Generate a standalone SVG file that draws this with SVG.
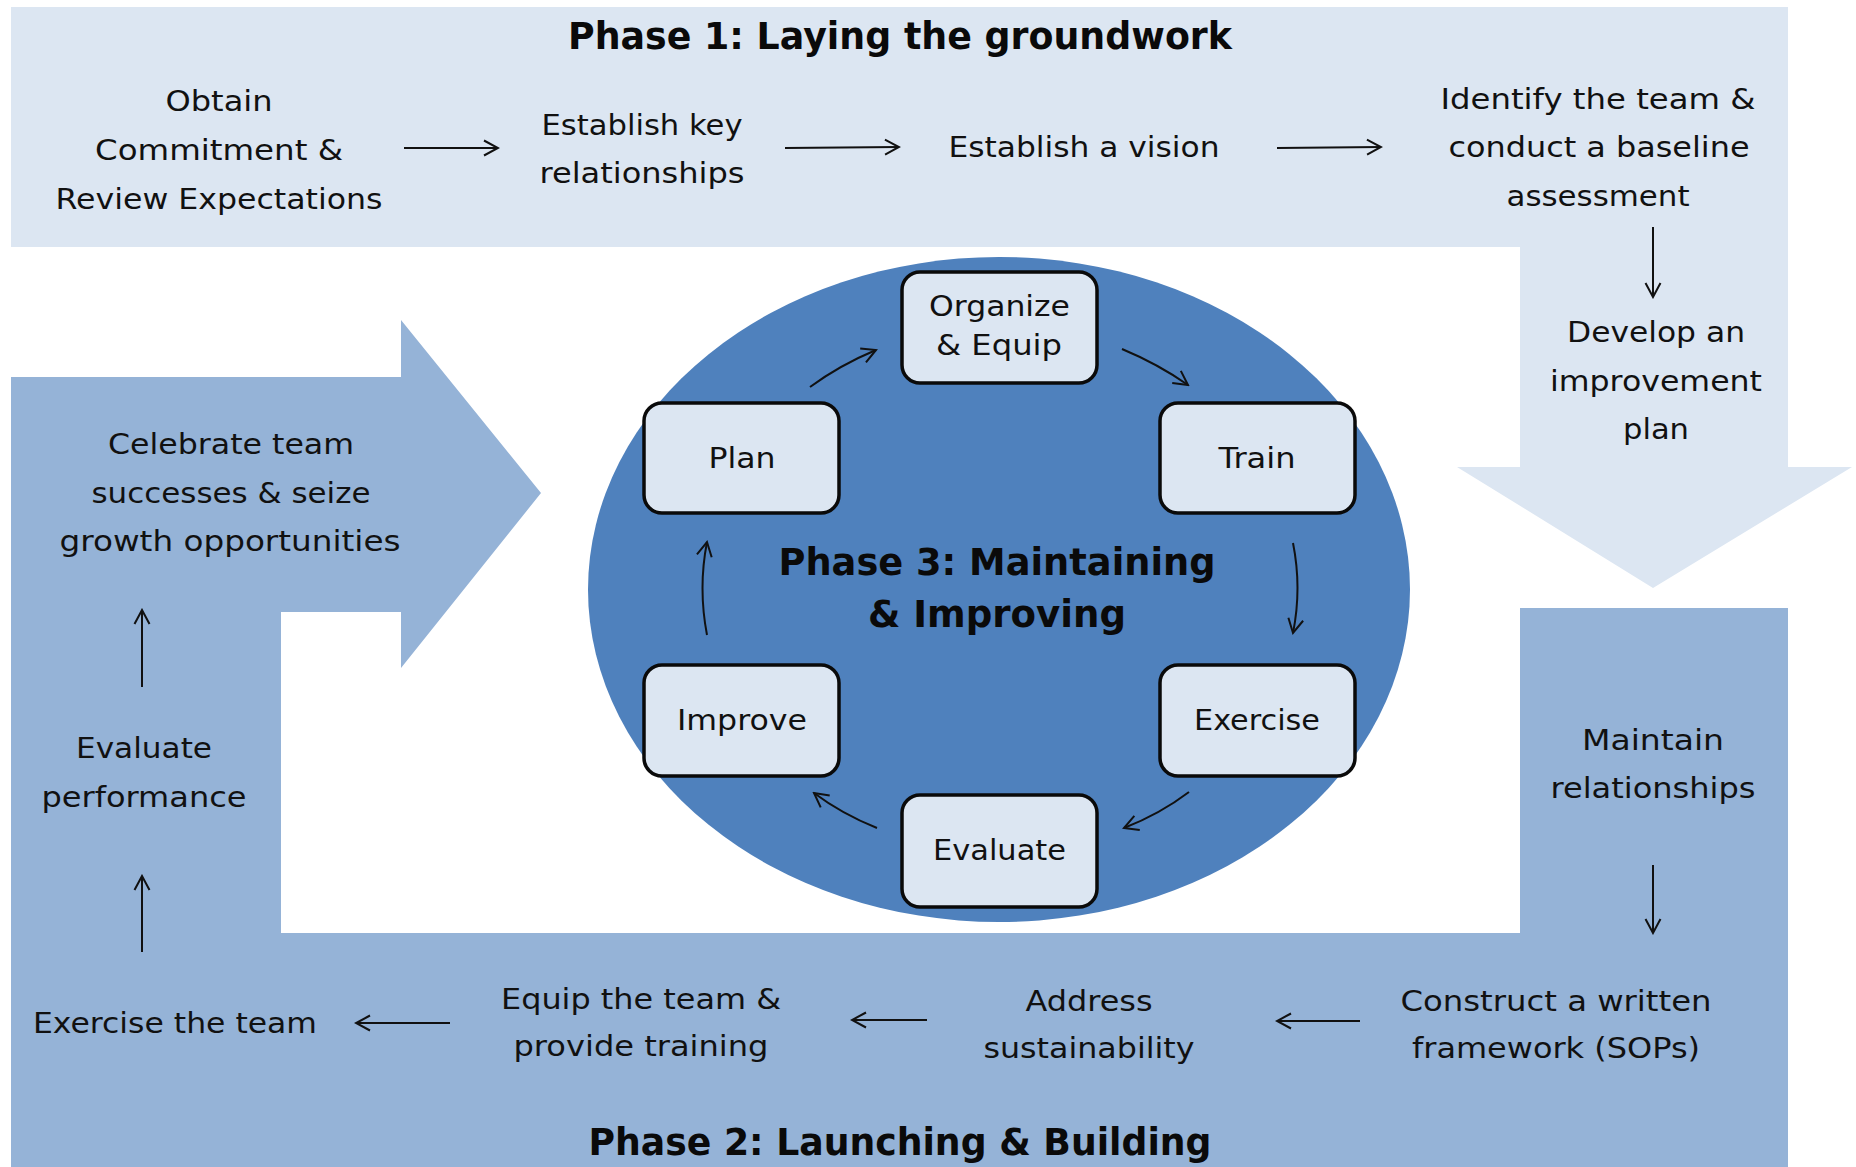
<svg xmlns="http://www.w3.org/2000/svg" width="1856" height="1167" viewBox="0 0 1856 1167">
  <style>
    .t { font-family: "DejaVu Sans", "Liberation Sans", sans-serif; font-size: 28px; fill: #111; text-anchor: middle; }
    .h { font-family: "DejaVu Sans", "Liberation Sans", sans-serif; font-size: 37px; font-weight: bold; fill: #0a0a0a; text-anchor: middle; }
    .p1 { fill: #DCE6F2; }
    .p2 { fill: #95B3D7; }
    .p3 { fill: #4F81BD; }
    .box { fill: #DCE6F2; stroke: #0a0a0a; stroke-width: 3.5; }
    .c { fill: none; stroke: #111; stroke-width: 2; marker-end: url(#arrow); }
  </style>
  <defs>
    <marker id="arrow" markerUnits="userSpaceOnUse" markerWidth="18" markerHeight="18" viewBox="0 0 18 18" refX="16" refY="9" orient="auto">
      <path d="M2,1.5 L16,9 L2,16.5" fill="none" stroke="#111" stroke-width="2"/>
    </marker>
  </defs>

  <rect width="1856" height="1167" fill="#ffffff"/>

  <!-- Phase 1 band with the downward arrow on the right -->
  <g id="phase1">
    <path class="p1" d="M11,7 H1788 V467 H1852 L1653,588 L1457,467 H1520 V247 H11 Z"/>
    <text class="h" x="900" y="49" textLength="664" lengthAdjust="spacingAndGlyphs">Phase 1: Laying the groundwork</text>
  </g>

  <!-- Phase 2 band with the right-pointing arrow on the left -->
  <g id="phase2">
    <path class="p2" d="M11,1167 V377 H401 V320 L541,493 L401,668 V612 H281 V933 H1520 V608 H1788 V1167 Z"/>
    <text class="h" x="900" y="1155" textLength="623" lengthAdjust="spacingAndGlyphs">Phase 2: Launching &amp; Building</text>
  </g>

  <!-- Phase 3 cycle -->
  <g id="phase3">
    <ellipse class="p3" cx="999" cy="589.5" rx="411" ry="332.5"/>
    <text class="h" x="997" y="574.5" textLength="437" lengthAdjust="spacingAndGlyphs">Phase 3: Maintaining</text>
    <text class="h" x="997" y="626.5" textLength="258" lengthAdjust="spacingAndGlyphs">&amp; Improving</text>
  </g>

  <!-- Phase 1 steps -->
  <g id="obtain-commitment">
    <text class="t" x="219" y="110.5" textLength="107" lengthAdjust="spacingAndGlyphs">Obtain</text>
    <text class="t" x="219" y="159.5" textLength="248" lengthAdjust="spacingAndGlyphs">Commitment &amp;</text>
    <text class="t" x="219" y="208.5" textLength="327" lengthAdjust="spacingAndGlyphs">Review Expectations</text>
  </g>
  <g id="establish-relationships">
    <text class="t" x="642" y="134.5" textLength="201" lengthAdjust="spacingAndGlyphs">Establish key</text>
    <text class="t" x="642" y="183" textLength="205" lengthAdjust="spacingAndGlyphs">relationships</text>
  </g>
  <g id="establish-vision">
    <text class="t" x="1084" y="157" textLength="271" lengthAdjust="spacingAndGlyphs">Establish a vision</text>
  </g>
  <g id="identify-team">
    <text class="t" x="1598" y="108.5" textLength="315" lengthAdjust="spacingAndGlyphs">Identify the team &amp;</text>
    <text class="t" x="1599" y="157" textLength="301" lengthAdjust="spacingAndGlyphs">conduct a baseline</text>
    <text class="t" x="1598" y="205.5" textLength="183" lengthAdjust="spacingAndGlyphs">assessment</text>
  </g>
  <g id="improvement-plan">
    <text class="t" x="1656" y="342" textLength="178" lengthAdjust="spacingAndGlyphs">Develop an</text>
    <text class="t" x="1656" y="390.5" textLength="212" lengthAdjust="spacingAndGlyphs">improvement</text>
    <text class="t" x="1656" y="438.5" textLength="66" lengthAdjust="spacingAndGlyphs">plan</text>
  </g>

  <!-- Phase 2 steps -->
  <g id="maintain-relationships">
    <text class="t" x="1653" y="749.5" textLength="142" lengthAdjust="spacingAndGlyphs">Maintain</text>
    <text class="t" x="1653" y="798" textLength="205" lengthAdjust="spacingAndGlyphs">relationships</text>
  </g>
  <g id="written-framework">
    <text class="t" x="1556" y="1011" textLength="311" lengthAdjust="spacingAndGlyphs">Construct a written</text>
    <text class="t" x="1556" y="1058" textLength="288" lengthAdjust="spacingAndGlyphs">framework (SOPs)</text>
  </g>
  <g id="address-sustainability">
    <text class="t" x="1089" y="1011" textLength="127" lengthAdjust="spacingAndGlyphs">Address</text>
    <text class="t" x="1089" y="1058" textLength="211" lengthAdjust="spacingAndGlyphs">sustainability</text>
  </g>
  <g id="equip-team">
    <text class="t" x="641" y="1009" textLength="280" lengthAdjust="spacingAndGlyphs">Equip the team &amp;</text>
    <text class="t" x="641" y="1056" textLength="255" lengthAdjust="spacingAndGlyphs">provide training</text>
  </g>
  <g id="exercise-team">
    <text class="t" x="175" y="1033" textLength="284" lengthAdjust="spacingAndGlyphs">Exercise the team</text>
  </g>
  <g id="evaluate-performance">
    <text class="t" x="144" y="758" textLength="136" lengthAdjust="spacingAndGlyphs">Evaluate</text>
    <text class="t" x="144" y="807" textLength="205" lengthAdjust="spacingAndGlyphs">performance</text>
  </g>
  <g id="celebrate-successes">
    <text class="t" x="231" y="454" textLength="246" lengthAdjust="spacingAndGlyphs">Celebrate team</text>
    <text class="t" x="231" y="502.5" textLength="279" lengthAdjust="spacingAndGlyphs">successes &amp; seize</text>
    <text class="t" x="230" y="551" textLength="341" lengthAdjust="spacingAndGlyphs">growth opportunities</text>
  </g>

  <!-- Phase 3 cycle steps -->
  <g id="organize-equip">
    <rect class="box" x="902" y="272" width="195" height="111" rx="18"/>
    <text class="t" x="999.5" y="316" textLength="141" lengthAdjust="spacingAndGlyphs">Organize</text>
    <text class="t" x="999" y="355" textLength="126" lengthAdjust="spacingAndGlyphs">&amp; Equip</text>
  </g>
  <g id="train">
    <rect class="box" x="1160" y="403" width="195" height="110" rx="18"/>
    <text class="t" x="1257" y="468" textLength="77" lengthAdjust="spacingAndGlyphs">Train</text>
  </g>
  <g id="exercise">
    <rect class="box" x="1160" y="665" width="195" height="111" rx="18"/>
    <text class="t" x="1257" y="730" textLength="126" lengthAdjust="spacingAndGlyphs">Exercise</text>
  </g>
  <g id="evaluate">
    <rect class="box" x="902" y="795" width="195" height="112" rx="18"/>
    <text class="t" x="999.5" y="860" textLength="133" lengthAdjust="spacingAndGlyphs">Evaluate</text>
  </g>
  <g id="improve">
    <rect class="box" x="644" y="665" width="195" height="111" rx="18"/>
    <text class="t" x="742" y="730" textLength="130" lengthAdjust="spacingAndGlyphs">Improve</text>
  </g>
  <g id="plan">
    <rect class="box" x="644" y="403" width="195" height="110" rx="18"/>
    <text class="t" x="742" y="468" textLength="67" lengthAdjust="spacingAndGlyphs">Plan</text>
  </g>

  <!-- Connectors -->
  <g id="connectors">
    <!-- Phase 1 flow -->
    <path class="c" d="M404,148 H498"/>
    <path class="c" d="M785,148 L899,147"/>
    <path class="c" d="M1277,148 L1381,147"/>
    <path class="c" d="M1653,227 V297"/>
    <!-- Phase 2 flow -->
    <path class="c" d="M1653,865 V933"/>
    <path class="c" d="M1360,1021 H1277"/>
    <path class="c" d="M927,1020 H852"/>
    <path class="c" d="M450,1023 H356"/>
    <path class="c" d="M142,952 V876"/>
    <path class="c" d="M142,687 V610"/>
    <!-- Phase 3 cycle -->
    <path class="c" d="M810,387 Q840,365 876,350"/>
    <path class="c" d="M1122,349 Q1158,364 1188,385"/>
    <path class="c" d="M1293,543 Q1302,588 1293,633"/>
    <path class="c" d="M1189,792 Q1160,814 1124,828"/>
    <path class="c" d="M877,828 Q842,814 814,793"/>
    <path class="c" d="M707,635 Q698,588 707,542"/>
  </g>
</svg>
